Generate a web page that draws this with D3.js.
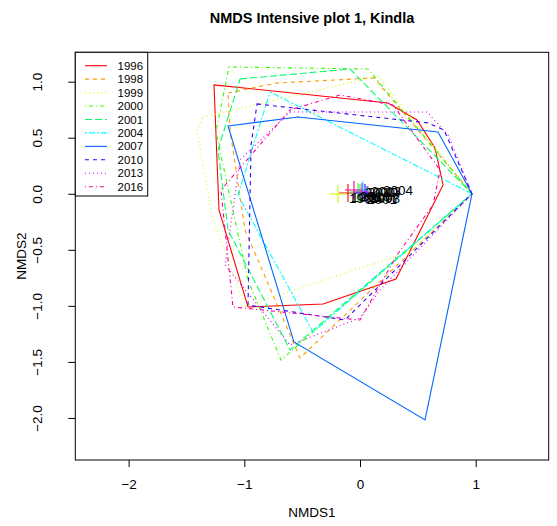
<!DOCTYPE html>
<html>
<head>
<meta charset="utf-8">
<script src="https://cdn.jsdelivr.net/npm/d3@7.9.0/dist/d3.min.js"></script>
<style>
  body { margin: 0; background: #fff; }
  svg { display: block; }
  text { font-family: "Liberation Sans", Arial, sans-serif; }
</style>
</head>
<body>
<svg width="557" height="526"></svg>
<script>
const years = ['1996', '1998', '1999', '2000', '2001', '2004', '2007', '2010', '2013', '2016'];
// rainbow(10) from R
const colors = ['#FF0000', '#FF9900', '#CCFF00', '#33FF00', '#00FF66', '#00FFFF', '#0066FF', '#3300FF', '#CC00FF', '#FF0099'];
// lty 1..6 then repeat
const dashes = [null, '4,4', '1,3', '1,3,4,3', '7,3', '2,2,6,2', null, '4,4', '1,3', '1,3,4,3'];

// hull vertices [NMDS1, NMDS2]
const hull1996 = [[-1.262, 0.971], [0.242, 0.810], [0.493, 0.658], [0.648, 0.409], [0.718, 0.079], [0.311, -0.760], [-0.320, -0.983], [-0.968, -1.010], [-1.219, -0.145]];
const hull1998 = [[-1.141, 0.899], [-0.718, 0.988], [0.121, 1.033], [0.968, 0], [-0.519, -1.465], [-0.994, -0.323], [-1.124, 0.569]];
const hull1999 = [[-1.357, 0.685], [0.156, 1.050], [0.968, 0], [0.432, -0.519], [-0.994, -1.001], [-1.271, -0.234], [-1.409, 0.569]];
const hull2000 = [[-1.133, 1.131], [0.069, 1.113], [0.968, 0], [-0.683, -1.483], [-0.968, -0.769], [-1.245, 0.551]];
const hull2001 = [[-1.037, 1.024], [-0.086, 1.113], [0.968, 0], [-0.605, -1.393], [-1.141, -0.323], [-1.228, 0.391]];
const hull2004 = [[-0.778, 0.908], [0.968, 0], [-0.406, -1.233], [-1.055, -0.011]];
const hull2007 = [[-1.141, 0.605], [-0.536, 0.685], [0.674, 0.551], [0.968, 0], [0.562, -2.018], [-0.571, -1.322]];
const hull2010 = [[-0.890, 0.801], [0.588, 0.632], [0.726, 0.569], [0.968, 0], [0.173, -0.814], [-0.130, -1.126], [-0.968, -0.992], [-0.942, 0.435]];
const hull2013 = [[-0.605, 0.730], [0.579, 0.730], [0.761, 0.525], [0.968, 0], [0.173, -0.858], [0, -1.108], [-0.605, -1.349], [-1.167, -0.635], [-1.037, 0.302]];
const hull2016 = [[-0.605, 0.748], [-0.173, 0.881], [0.285, 0.792], [0.692, 0.212], [0.631, -0.100], [0.320, -0.546], [0, -1.126], [-1.098, -1.010], [-1.202, 0.034]];
const hulls = [hull1996, hull1998, hull1999, hull2000, hull2001, hull2004, hull2007, hull2010, hull2013, hull2016];

// group centroids (crosses) and label positions
const centroidX = [-0.104, 0.069, -0.190, -0.017, 0, 0.026, 0.061, 0.043, 0.017, -0.052];
const centroidY = [0.007, -0.011, -0.002, 0.016, 0.007, 0.034, -0.011, 0.007, 0.016, 0.034];
const labelX = [0.052, 0.216, 0.035, 0.173, 0.190, 0.329, 0.216, 0.199, 0.225, 0.130];
const labelY = [-0.029, -0.037, -0.037, 0.016, -0.046, 0.034, -0.029, 0.016, 0.025, -0.020];

const xTicks = [-2, -1, 0, 1];
const yTicks = [-2, -1.5, -1, -0.5, 0, 0.5, 1];

const svg = d3.select('svg');
const plotL = 75.3, plotR = 548.7, plotT = 52.3, plotB = 460;

const x = d3.scaleLinear().domain([-2.461, 1.631]).range([plotL, plotR]);
const y = d3.scaleLinear().domain([-2.375, 1.262]).range([plotB, plotT]);

// title
svg.append('text')
    .attr('x', (plotL + plotR) / 2)
    .attr('y', 23)
    .attr('text-anchor', 'middle')
    .attr('font-weight', 'bold')
    .attr('font-size', 14.5)
    .text('NMDS Intensive plot 1, Kindla');

// axes
const xAxis = svg.append('g')
    .attr('transform', `translate(0,${plotB})`)
    .call(d3.axisBottom(x).tickValues(xTicks).tickSize(7).tickPadding(12).tickFormat(d3.format('d')));
const yAxis = svg.append('g')
    .attr('transform', `translate(${plotL},0)`)
    .call(d3.axisLeft(y).tickValues(yTicks).tickSize(7).tickFormat(d3.format('.1f')));

[xAxis, yAxis].forEach((g) => {
    g.select('.domain').remove();
    g.selectAll('line').attr('stroke', '#000');
    g.selectAll('text').attr('font-size', 13.5).attr('fill', '#000')
        .attr('font-family', '"Liberation Sans", Arial, sans-serif');
});
// rotated y tick labels like R las=0
yAxis.selectAll('.tick text')
    .attr('x', null)
    .attr('text-anchor', 'middle')
    .attr('transform', 'translate(-38.5,0) rotate(-90)')
    .attr('dy', '0.35em');

svg.append('text')
    .attr('x', (plotL + plotR) / 2)
    .attr('y', 517)
    .attr('text-anchor', 'middle')
    .attr('font-size', 13.5)
    .text('NMDS1');
svg.append('text')
    .attr('transform', `translate(26,${(plotT + plotB) / 2}) rotate(-90)`)
    .attr('text-anchor', 'middle')
    .attr('font-size', 13.5)
    .text('NMDS2');

// hulls
const line = d3.line().x((d) => x(d[0])).y((d) => y(d[1])).curve(d3.curveLinearClosed);
hulls.forEach((h, i) => {
    svg.append('path')
        .attr('d', line(h))
        .attr('fill', 'none')
        .attr('stroke', colors[i])
        .attr('stroke-width', 1.1)
        .attr('stroke-dasharray', dashes[i]);
});

// centroid crosses
const arm = 9;
years.forEach((yr, i) => {
    const cx = x(centroidX[i]), cy = y(centroidY[i]);
    svg.append('path')
        .attr('d', `M${cx - arm},${cy}H${cx + arm}M${cx},${cy - arm}V${cy + arm}`)
        .attr('stroke', colors[i])
        .attr('stroke-width', 1.1);
});

// labels
years.forEach((yr, i) => {
    svg.append('text')
        .attr('x', x(labelX[i]))
        .attr('y', y(labelY[i]))
        .attr('dy', '0.35em')
        .attr('text-anchor', 'middle')
        .attr('font-size', 13.5)
        .text(yr);
});

// box
svg.append('rect')
    .attr('x', plotL).attr('y', plotT)
    .attr('width', plotR - plotL).attr('height', plotB - plotT)
    .attr('fill', 'none').attr('stroke', '#000');

// legend
const lg = svg.append('g');
lg.append('rect')
    .attr('x', plotL).attr('y', plotT)
    .attr('width', 72.4).attr('height', 143.7)
    .attr('fill', '#fff').attr('stroke', '#000');
const rowY = d3.scaleLinear().domain([0, 9]).range([65.7, 186.7]);
years.forEach((yr, i) => {
    lg.append('line')
        .attr('x1', 85).attr('x2', 107)
        .attr('y1', rowY(i)).attr('y2', rowY(i))
        .attr('stroke', colors[i])
        .attr('stroke-width', 1.1)
        .attr('stroke-dasharray', dashes[i]);
    lg.append('text')
        .attr('x', 117.5)
        .attr('y', rowY(i))
        .attr('dy', '0.35em')
        .attr('font-size', 11.5)
        .text(yr);
});
</script>
</body>
</html>
